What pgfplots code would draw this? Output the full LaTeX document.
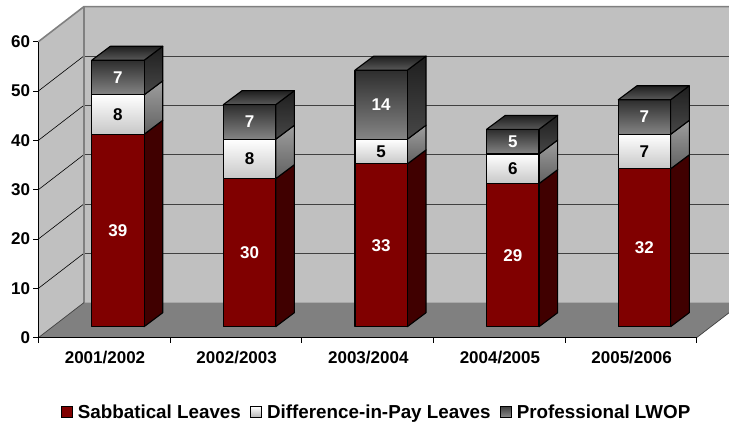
\documentclass[border=0pt]{standalone}
\usepackage{pgfplots}
\pgfplotsset{compat=1.18}
\usepackage{fontspec}
\setmainfont{Liberation Sans}

% Colours of the walls, floor and bar faces
\definecolor{wallgrey}{HTML}{C0C0C0}
\definecolor{floorgrey}{HTML}{808080}
\definecolor{gridgrey}{HTML}{404040}
\definecolor{sabb}{HTML}{800000}
\definecolor{sabbside}{HTML}{400000}

\pgfplotsset{
  face/.style={draw=black,line width=1.1pt,line join=round,mark=none,forget plot},
  redfront/.style={face,fill=sabb},
  redside/.style={face,fill=sabbside},
  whitefront/.style={face,top color=white,bottom color=white!78!black},
  whiteside/.style={face,top color=black!38,bottom color=black!62},
  darkfront/.style={face,top color=black!82,bottom color=black!48},
  darkside/.style={face,top color=black!88,bottom color=black!72},
  darktop/.style={face,top color=black!88,bottom color=black!65},
  wallline/.style={mark=none,forget plot},
}
\tikzset{barlabel/.style={font=\fontsize{17}{19}\selectfont\bfseries,inner sep=0pt}}

% Depth of the chart box and of the bars, and the place of a bar on the floor
\def\walldx{0.3456}
\def\walldy{7.1}
\def\wallx{-0.1544}
\def\rightx{4.7454}
\def\barhalf{0.199}
\def\barsx{0.103}
\def\barsy{2.21}
\def\bardx{0.142}
\def\bardy{2.84}

% One segment of a stacked bar: category, from, to, front style, side style, label colour, label
\newcommand{\segment}[7]{%
  \pgfmathsetmacro\fxl{#1+\barsx-\barhalf}%
  \pgfmathsetmacro\fxr{#1+\barsx+\barhalf}%
  \pgfmathsetmacro\fxc{#1+\barsx}%
  \pgfmathsetmacro\fxb{\fxr+\bardx}%
  \pgfmathsetmacro\fyl{#2+\barsy}%
  \pgfmathsetmacro\fyu{#3+\barsy}%
  \pgfmathsetmacro\fym{(\fyl+\fyu)/2}%
  \pgfmathsetmacro\fybl{\fyl+\bardy}%
  \pgfmathsetmacro\fybu{\fyu+\bardy}%
  \edef\drawseg{%
    \noexpand\addplot[#5] coordinates {(\fxr,\fyl)(\fxb,\fybl)(\fxb,\fybu)(\fxr,\fyu)} -- cycle;
    \noexpand\addplot[#4] coordinates {(\fxl,\fyl)(\fxr,\fyl)(\fxr,\fyu)(\fxl,\fyu)} -- cycle;
    \noexpand\node[barlabel,text=#6] at (axis cs:\fxc,\fym) {#7};
  }\drawseg
}
% The lid of a bar: category, height
\newcommand{\barlid}[2]{%
  \pgfmathsetmacro\fxl{#1+\barsx-\barhalf}%
  \pgfmathsetmacro\fxr{#1+\barsx+\barhalf}%
  \pgfmathsetmacro\fxal{\fxl+\bardx}%
  \pgfmathsetmacro\fxar{\fxr+\bardx}%
  \pgfmathsetmacro\fyu{#2+\barsy}%
  \pgfmathsetmacro\fyb{\fyu+\bardy}%
  \edef\drawlid{%
    \noexpand\addplot[darktop] coordinates {(\fxl,\fyu)(\fxr,\fyu)(\fxar,\fyb)(\fxal,\fyb)} -- cycle;
  }\drawlid
}
% A whole stack: category, sabbatical, difference-in-pay, professional
\newcommand{\stack}[4]{%
  \pgfmathtruncatemacro\sa{#2}%
  \pgfmathtruncatemacro\sb{#2+#3}%
  \pgfmathtruncatemacro\sc{#2+#3+#4}%
  \segment{#1}{0}{\sa}{redfront}{redside}{white}{#2}%
  \segment{#1}{\sa}{\sb}{whitefront}{whiteside}{black}{#3}%
  \segment{#1}{\sb}{\sc}{darkfront}{darkside}{white}{#4}%
  \barlid{#1}{\sc}%
}
% A back-wall gridline and its run across the left wall
\newcommand{\gridline}[1]{%
  \pgfmathsetmacro\gy{#1+\walldy}%
  \edef\drawgrid{%
    \noexpand\addplot[wallline,draw=black,line width=0.6pt] coordinates {(-0.5,#1)(\wallx,\gy)};
    \noexpand\addplot[wallline,draw=gridgrey,line width=0.8pt] coordinates {(\wallx,\gy)(\rightx,\gy)};
  }\drawgrid
}

\begin{document}
\begin{tikzpicture}[x=1pt,y=1pt]
\path[use as bounding box] (0,0) rectangle (729,425);
\begin{axis}[
  at={(38.5pt,87.4pt)},anchor=south west,
  scale only axis,width=658.2pt,height=296pt,
  xmin=-0.5,xmax=4.5,ymin=0,ymax=60,
  clip=false,axis on top,
  axis lines=left,axis line style={-,line width=1pt,black},
  ytick={0,10,20,30,40,50,60},
  xtick={0,1,2,3,4},
  xticklabels={2001/2002,2002/2003,2003/2004,2004/2005,2005/2006},
  minor xtick={-0.5,0.5,1.5,2.5,3.5,4.5},
  major x tick style={draw=none},
  tick align=outside,
  major tick length=5pt,minor tick length=5pt,
  tick style={black,line width=0.8pt},
  tick label style={font=\fontsize{17}{19}\selectfont\bfseries},
  /pgf/number format/assume math mode=true,
  x tick label style={yshift=-5.5pt,xshift=0.7pt},
  y tick label style={xshift=0pt},
  legend columns=3,
  legend cell align=left,
  legend style={
    at={(0.5135,-0.2514)},anchor=center,draw=none,fill=none,inner sep=0pt,
    font=\fontsize{18.8}{21}\selectfont\bfseries,
    /tikz/column 1/.style={column sep=3pt},
    /tikz/column 2/.style={column sep=7pt},
    /tikz/column 3/.style={column sep=3pt},
    /tikz/column 4/.style={column sep=7pt},
    /tikz/column 5/.style={column sep=3pt},
  },
  legend image code/.code={\draw[#1,line width=1.2pt,draw=black] (0pt,-5.5pt) rectangle (11pt,5.5pt);},
]
\addlegendimage{fill=sabb}
\addlegendentry{Sabbatical Leaves}
\addlegendimage{top color=white,bottom color=white!70!black}
\addlegendentry{Difference-in-Pay Leaves}
\addlegendimage{top color=black!75,bottom color=black!45}
\addlegendentry{Professional LWOP}

% Walls and floor
\addplot[wallline,fill=wallgrey,draw=none] coordinates {(-0.5,0)(-0.1544,7.1)(-0.1544,67.1)(-0.5,60)} -- cycle;
\addplot[wallline,fill=wallgrey,draw=none] coordinates {(-0.1544,7.1)(4.7454,7.1)(4.7454,67.1)(-0.1544,67.1)} -- cycle;
\addplot[wallline,fill=floorgrey,draw=none] coordinates {(-0.5,0)(-0.1544,7.1)(4.7454,7.1)(4.7454,5.03)(4.5,0)} -- cycle;

% Gridlines
\gridline{10}\gridline{20}\gridline{30}\gridline{40}\gridline{50}

% Edges of the box
\addplot[wallline,draw=floorgrey,line width=1.6pt] coordinates {(-0.5,60)(-0.1544,67.1)(4.7454,67.1)};
\addplot[wallline,draw=floorgrey,line width=1.6pt] coordinates {(-0.1544,67.1)(-0.1544,7.1)};
\addplot[wallline,draw=gridgrey,line width=0.7pt] coordinates {(-0.5,0)(-0.1544,7.1)};
\addplot[wallline,draw=gridgrey,line width=0.7pt] coordinates {(4.5,0)(4.7454,5.03)};

% Stacked bars, one per academic year
\stack{0}{39}{8}{7}
\stack{1}{30}{8}{7}
\stack{2}{33}{5}{14}
\stack{3}{29}{6}{5}
\stack{4}{32}{7}{7}
\end{axis}
\end{tikzpicture}
\end{document}
